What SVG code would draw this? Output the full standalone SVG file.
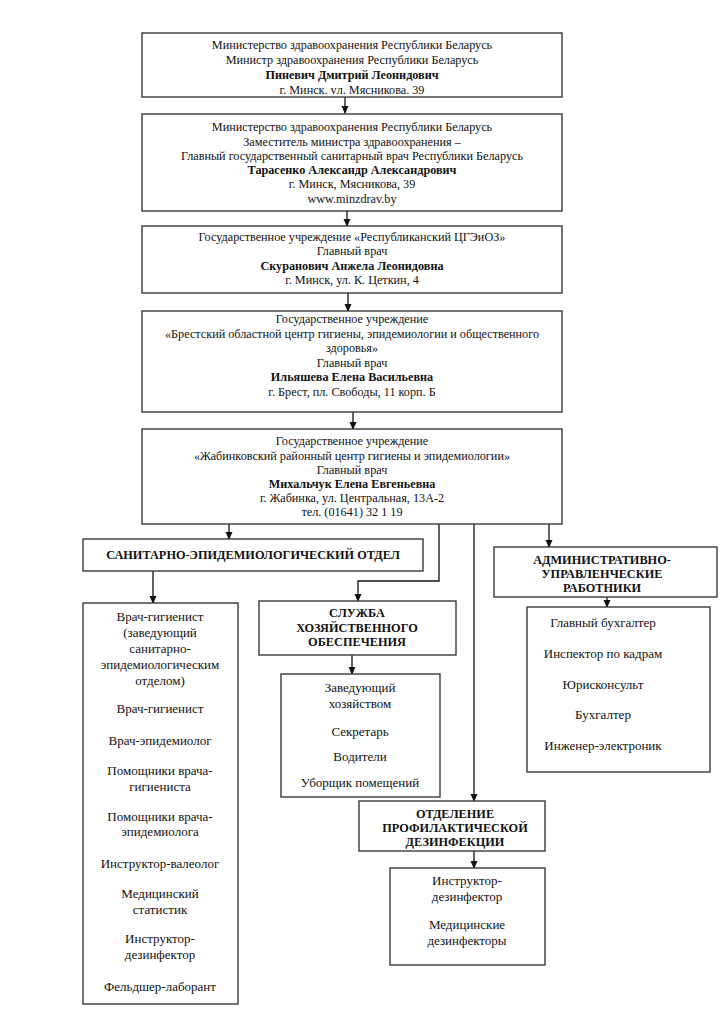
<svg xmlns="http://www.w3.org/2000/svg" width="724" height="1024" viewBox="0 0 724 1024" font-family="'Liberation Serif', 'Times New Roman', 'DejaVu Serif', serif">
<defs>
<marker id="ah" markerWidth="8" markerHeight="8" refX="7" refY="4" orient="auto" markerUnits="userSpaceOnUse">
<path d="M0,0.5 L8,4 L0,7.5 Z" fill="#111"/>
</marker>
<style>
.box{fill:#fff;stroke:#3a3a3a;stroke-width:1.4}
.t{font-family:'Liberation Serif','Times New Roman','DejaVu Serif',serif;font-size:12.2px;fill:#111;text-anchor:middle}
.b{font-weight:bold}
.l{font-size:13px}
.h{font-family:'Liberation Serif','Times New Roman','DejaVu Serif',serif;font-size:12.3px;font-weight:bold;fill:#111;text-anchor:middle}
.c{fill:none;stroke:#111;stroke-width:1.3}
</style>
</defs>
<rect width="724" height="1024" fill="#fff"/>

<g id="connectors">
<line class="c" x1="345" y1="97" x2="345" y2="113" marker-end="url(#ah)"/>
<line class="c" x1="347" y1="211" x2="347" y2="226" marker-end="url(#ah)"/>
<line class="c" x1="348" y1="293" x2="348" y2="311" marker-end="url(#ah)"/>
<line class="c" x1="353" y1="412" x2="353" y2="429" marker-end="url(#ah)"/>
<line class="c" x1="229" y1="524" x2="229" y2="539" marker-end="url(#ah)"/>
<polyline class="c" points="439,524 439,581 358,581 358,601" marker-end="url(#ah)"/>
<line class="c" x1="474" y1="524" x2="474" y2="801" marker-end="url(#ah)"/>
<line class="c" x1="549" y1="524" x2="549" y2="547" marker-end="url(#ah)"/>
<line class="c" x1="153" y1="571" x2="153" y2="603" marker-end="url(#ah)"/>
<line class="c" x1="352" y1="655" x2="352" y2="674" marker-end="url(#ah)"/>
<line class="c" x1="607" y1="597" x2="607" y2="607" marker-end="url(#ah)"/>
<line class="c" x1="474" y1="851" x2="474" y2="868" marker-end="url(#ah)"/>
</g>

<g id="n1">
<rect class="box" x="142" y="33" width="420" height="64"/>
<text class="t" x="352" y="49">Министерство здравоохранения Республики Беларусь</text>
<text class="t" x="352" y="64">Министр здравоохранения Республики Беларусь</text>
<text class="t b" x="352" y="79">Пиневич Дмитрий Леонидович</text>
<text class="t" x="352" y="94">г. Минск. vл. Мясникова. 39</text>
</g>

<g id="n2">
<rect class="box" x="142" y="114" width="420" height="97"/>
<text class="t" x="352" y="131">Министерство здравоохранения Республики Беларусь</text>
<text class="t" x="352" y="146">Заместитель министра здравоохранения –</text>
<text class="t" x="352" y="160">Главный государственный санитарный врач Республики Беларусь</text>
<text class="t b" x="352" y="174">Тарасенко Александр Александрович</text>
<text class="t" x="352" y="188">г. Минск, Мясникова, 39</text>
<text class="t" x="352" y="203">www.minzdrav.by</text>
</g>

<g id="n3">
<rect class="box" x="142" y="226" width="420" height="67"/>
<text class="t" x="352" y="241">Государственное учреждение «Республиканский ЦГЭиОЗ»</text>
<text class="t" x="352" y="255">Главный врач</text>
<text class="t b" x="352" y="270">Скуранович Анжела Леонидовна</text>
<text class="t" x="352" y="284">г. Минск, ул. К. Цеткин, 4</text>
</g>

<g id="n4">
<rect class="box" x="142" y="311" width="420" height="101"/>
<text class="t" x="352" y="323">Государственное учреждение</text>
<text class="t" x="352" y="338">«Брестский областной центр гигиены, эпидемиологии и общественного</text>
<text class="t" x="352" y="352">здоровья»</text>
<text class="t" x="352" y="367">Главный врач</text>
<text class="t b" x="352" y="381">Ильяшева Елена Васильевна</text>
<text class="t" x="352" y="396">г. Брест, пл. Свободы, 11 корп. Б</text>
</g>

<g id="n5">
<rect class="box" x="142" y="429" width="420" height="95"/>
<text class="t" x="352" y="445">Государственное учреждение</text>
<text class="t" x="352" y="460">«Жабинковский районный центр гигиены и эпидемиологии»</text>
<text class="t" x="352" y="474">Главный врач</text>
<text class="t b" x="352" y="488">Михальчук Елена Евгеньевна</text>
<text class="t" x="352" y="502">г. Жабинка, ул. Центральная, 13А-2</text>
<text class="t" x="352" y="516">тел. (01641) 32 1 19</text>
</g>

<g id="n6">
<rect class="box" x="83" y="539" width="340" height="32"/>
<text class="h" x="253" y="559">САНИТАРНО-ЭПИДЕМИОЛОГИЧЕСКИЙ ОТДЕЛ</text>
</g>

<g id="n7">
<rect class="box" x="83" y="603" width="155" height="401"/>
<text class="t l" x="160" y="621">Врач-гигиенист</text>
<text class="t l" x="160" y="637">(заведующий</text>
<text class="t l" x="160" y="653">санитарно-</text>
<text class="t l" x="160" y="669">эпидемиологическим</text>
<text class="t l" x="160" y="685">отделом)</text>
<text class="t l" x="160" y="713">Врач-гигиенист</text>
<text class="t l" x="160" y="745">Врач-эпидемиолог</text>
<text class="t l" x="160" y="775">Помощники врача-</text>
<text class="t l" x="160" y="791">гигиениста</text>
<text class="t l" x="160" y="821">Помощники врача-</text>
<text class="t l" x="160" y="836">эпидемиолога</text>
<text class="t l" x="160" y="868">Инструктор-валеолог</text>
<text class="t l" x="160" y="898">Медицинский</text>
<text class="t l" x="160" y="914">статистик</text>
<text class="t l" x="160" y="943">Инструктор-</text>
<text class="t l" x="160" y="959">дезинфектор</text>
<text class="t l" x="160" y="991">Фельдшер-лаборант</text>
</g>

<g id="n8">
<rect class="box" x="259" y="601" width="197" height="54"/>
<text class="h" x="357" y="617">СЛУЖБА</text>
<text class="h" x="357" y="632">ХОЗЯЙСТВЕННОГО</text>
<text class="h" x="357" y="646">ОБЕСПЕЧЕНИЯ</text>
</g>

<g id="n9">
<rect class="box" x="281" y="674" width="159" height="123"/>
<text class="t l" x="360" y="692">Заведующий</text>
<text class="t l" x="360" y="708">хозяйством</text>
<text class="t l" x="360" y="736">Секретарь</text>
<text class="t l" x="360" y="761">Водители</text>
<text class="t l" x="360" y="787">Уборщик помещений</text>
</g>

<g id="n10">
<rect class="box" x="494" y="547" width="223" height="50"/>
<text class="h" x="602" y="564">АДМИНИСТРАТИВНО-</text>
<text class="h" x="602" y="578">УПРАВЛЕНЧЕСКИЕ</text>
<text class="h" x="602" y="592">РАБОТНИКИ</text>
</g>

<g id="n11">
<rect class="box" x="527" y="607" width="183" height="165"/>
<text class="t l" x="603" y="627">Главный бухгалтер</text>
<text class="t l" x="603" y="658">Инспектор по кадрам</text>
<text class="t l" x="603" y="689">Юрисконсульт</text>
<text class="t l" x="603" y="719">Бухгалтер</text>
<text class="t l" x="603" y="750">Инженер-электроник</text>
</g>

<g id="n12">
<rect class="box" x="359" y="801" width="186" height="50"/>
<text class="h" x="455" y="818">ОТДЕЛЕНИЕ</text>
<text class="h" x="455" y="832">ПРОФИЛАКТИЧЕСКОЙ</text>
<text class="h" x="455" y="846">ДЕЗИНФЕКЦИИ</text>
</g>

<g id="n13">
<rect class="box" x="390" y="868" width="155" height="97"/>
<text class="t l" x="467" y="885">Инструктор-</text>
<text class="t l" x="467" y="901">дезинфектор</text>
<text class="t l" x="467" y="929">Медицинские</text>
<text class="t l" x="467" y="945">дезинфекторы</text>
</g>
</svg>
